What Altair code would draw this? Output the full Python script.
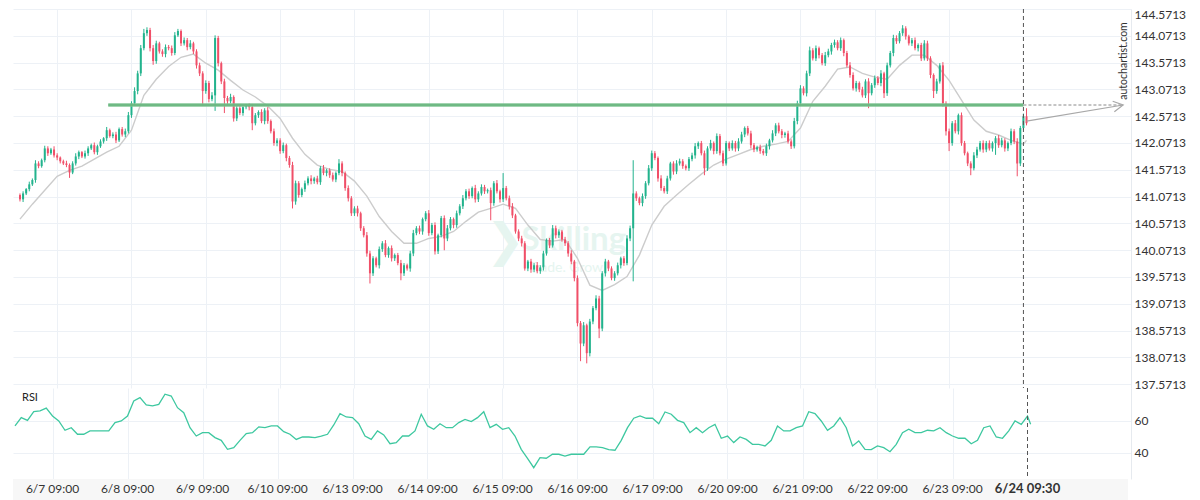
import altair as alt
import pandas as pd

# ---------------- data (hourly candles, index 0 = 6/6 21:00) ----------------
first_open = 141.10
close = [
    141.02, 141.13, 141.21, 141.30, 141.38, 141.69, 141.64, 141.75, 141.97, 141.88, 141.95, 141.84,
    141.80, 141.73, 141.69, 141.66, 141.52, 141.69, 141.82, 141.90, 141.82, 141.88, 141.97, 142.03,
    141.90, 142.01, 142.10, 142.16, 142.31, 142.20, 142.23, 142.12, 142.33, 142.23, 142.29, 142.59,
    142.81, 143.04, 143.37, 143.84, 144.12, 144.18, 143.84, 143.60, 143.93, 143.78, 143.73, 143.86,
    143.84, 143.75, 144.08, 144.16, 143.93, 143.99, 143.86, 143.93, 143.78, 143.52, 143.37, 143.04,
    143.19, 142.89, 142.96, 144.03, 143.56, 143.22, 142.91, 142.85, 142.93, 142.53, 142.72, 142.63,
    142.74, 142.76, 142.74, 142.44, 142.59, 142.65, 142.48, 142.68, 142.48, 142.29, 142.07, 142.12,
    141.92, 142.03, 141.79, 141.66, 140.98, 141.32, 141.10, 141.21, 141.32, 141.41, 141.36, 141.41,
    141.34, 141.60, 141.51, 141.56, 141.47, 141.39, 141.51, 141.69, 141.51, 141.23, 141.04, 140.76,
    140.85, 140.76, 140.48, 140.35, 140.01, 139.64, 139.92, 139.79, 140.09, 140.20, 139.98, 140.11,
    139.92, 139.98, 139.83, 139.64, 139.79, 139.73, 140.01, 140.39, 140.48, 140.42, 140.65, 140.76,
    140.39, 140.54, 140.05, 140.35, 140.67, 140.29, 140.48, 140.65, 140.54, 140.76, 140.89, 141.04,
    141.17, 141.08, 141.23, 141.02, 141.13, 141.25, 141.17, 141.19, 140.95, 141.32, 141.17, 141.02,
    141.23, 141.04, 140.89, 140.72, 140.42, 140.29, 140.20, 139.73, 139.86, 139.71, 139.79, 139.68,
    139.75, 140.01, 140.26, 140.16, 140.48, 140.35, 140.42, 140.27, 140.20, 140.01, 139.86, 139.55,
    138.71, 138.33, 138.67, 138.15, 138.74, 138.99, 139.17, 138.61, 139.64, 139.86, 139.73, 139.55,
    139.64, 139.79, 139.92, 139.83, 140.29, 140.48, 141.13, 141.04, 140.95, 141.08, 141.32, 141.60,
    141.88, 141.79, 141.41, 141.23, 141.17, 141.41, 141.69, 141.54, 141.69, 141.73, 141.64, 141.60,
    141.77, 141.84, 142.01, 142.07, 141.88, 141.60, 141.97, 142.07, 141.92, 142.20, 141.88, 141.69,
    142.07, 141.97, 142.07, 141.97, 142.10, 142.23, 142.35, 142.25, 142.03, 141.95, 141.99, 141.92,
    141.88, 142.01, 142.12, 142.25, 142.40, 142.29, 142.22, 142.25, 142.10, 142.01, 142.48, 142.81,
    143.09, 143.00, 143.37, 143.80, 143.65, 143.84, 143.71, 143.56, 143.71, 143.78, 143.90, 143.95,
    143.84, 143.99, 143.75, 143.52, 143.34, 143.09, 143.19, 143.07, 142.96, 143.22, 143.00, 143.15,
    143.28, 143.19, 143.37, 143.00, 143.52, 143.75, 144.03, 143.97, 144.12, 144.21, 144.06, 143.93,
    143.99, 143.84, 143.90, 143.65, 143.93, 143.65, 143.34, 143.04, 143.22, 143.52, 142.81, 142.29,
    142.07, 142.44, 142.29, 142.59, 142.07, 141.88, 141.69, 141.60, 141.84, 141.95, 142.07, 141.95,
    142.07, 141.97, 142.07, 142.16, 142.03, 142.12, 141.97, 142.07, 142.29, 142.10, 141.69, 142.35,
    142.57, 142.44,
]
# wick extensions beyond the body, in hundredths of a yen
wick_up = [
    3, 4, 2, 5, 3, 6, 4, 3, 5, 4, 3, 6,
    4, 2, 3, 5, 3, 4, 6, 3, 2, 5, 4, 3,
    5, 3, 4, 2, 6, 3, 4, 5, 3, 4, 5, 6,
    4, 7, 5, 6, 8, 5, 4, 6, 5, 3, 4, 5,
    4, 5, 6, 4, 3, 5, 4, 6, 3, 4, 5, 4,
    5, 4, 6, 5, 4, 3, 5, 4, 6, 3, 4, 5,
    3, 4, 5, 6, 4, 3, 5, 4, 6, 3, 5, 4,
    4, 5, 3, 4, 6, 5, 4, 3, 5, 4, 6, 3,
    5, 4, 6, 3, 4, 5, 3, 8, 4, 3, 5, 4,
    4, 5, 3, 4, 6, 5, 4, 3, 5, 4, 6, 3,
    5, 3, 4, 6, 4, 3, 5, 6, 4, 5, 3, 4,
    6, 4, 5, 3, 4, 5, 6, 4, 3, 5, 4, 6,
    4, 5, 3, 6, 4, 5, 4, 3, 5, 4, 6, 3,
    28, 4, 5, 6, 3, 4, 5, 4, 3, 5, 4, 6,
    4, 5, 3, 4, 6, 5, 4, 3, 5, 4, 6, 3,
    5, 4, 6, 3, 5, 4, 6, 5, 4, 5, 3, 4,
    4, 5, 3, 4, 6, 5, 62, 4, 3, 5, 4, 6,
    5, 4, 3, 6, 4, 5, 3, 4, 6, 5, 4, 3,
    4, 5, 6, 3, 4, 5, 4, 6, 3, 5, 4, 5,
    4, 3, 5, 4, 6, 5, 3, 4, 5, 4, 3, 5,
    4, 5, 3, 6, 4, 5, 4, 3, 5, 4, 6, 5,
    6, 4, 5, 7, 4, 5, 3, 4, 6, 5, 4, 5,
    4, 5, 3, 4, 6, 5, 4, 3, 5, 4, 6, 4,
    5, 4, 6, 3, 5, 4, 6, 5, 4, 6, 4, 3,
    4, 5, 3, 4, 6, 5, 4, 3, 5, 4, 6, 4,
    5, 4, 6, 3, 5, 4, 3, 4, 6, 5, 4, 5,
    4, 5, 3, 4, 6, 5, 4, 3, 5, 4, 6, 4,
    5, 15,
]
wick_dn = [
    4, 5, 3, 4, 3, 5, 4, 3, 4, 5, 3, 4,
    5, 4, 3, 4, 10, 3, 4, 5, 3, 4, 5, 3,
    4, 5, 3, 4, 5, 3, 4, 5, 3, 4, 5, 4,
    5, 4, 6, 5, 4, 5, 6, 7, 5, 4, 5, 6,
    4, 5, 4, 3, 5, 4, 6, 4, 5, 6, 5, 28,
    5, 6, 4, 29, 6, 5, 28, 5, 4, 6, 5, 4,
    5, 4, 6, 13, 4, 5, 4, 6, 5, 4, 5, 6,
    5, 4, 6, 5, 13, 6, 5, 4, 5, 4, 6, 5,
    4, 5, 4, 6, 5, 4, 5, 4, 6, 5, 6, 5,
    5, 6, 5, 4, 6, 19, 5, 4, 6, 5, 4, 5,
    6, 5, 4, 13, 5, 4, 6, 5, 4, 5, 6, 4,
    5, 4, 6, 5, 4, 22, 5, 4, 6, 5, 4, 5,
    4, 5, 4, 6, 5, 4, 5, 4, 32, 5, 4, 6,
    5, 4, 6, 5, 4, 5, 6, 4, 5, 6, 5, 4,
    5, 6, 4, 5, 4, 6, 5, 4, 5, 6, 5, 6,
    6, 33, 5, 19, 6, 5, 4, 18, 5, 6, 5, 4,
    5, 4, 6, 5, 4, 5, 99, 5, 4, 6, 5, 4,
    5, 4, 6, 5, 4, 5, 4, 6, 5, 4, 5, 4,
    5, 4, 6, 5, 4, 13, 5, 4, 6, 5, 4, 5,
    4, 5, 4, 6, 5, 4, 5, 4, 6, 5, 4, 5,
    4, 5, 6, 4, 5, 4, 6, 5, 4, 5, 4, 6,
    5, 4, 6, 5, 4, 5, 6, 4, 5, 4, 6, 5,
    4, 5, 6, 4, 5, 4, 6, 5, 4, 5, 28, 4,
    5, 4, 6, 9, 5, 4, 6, 5, 4, 5, 6, 4,
    5, 4, 6, 5, 4, 5, 6, 13, 5, 4, 6, 8,
    15, 5, 4, 6, 5, 4, 5, 13, 4, 5, 4, 6,
    5, 4, 6, 22, 5, 4, 6, 5, 4, 5, 24, 5,
    4, 4,
]
# moving average, read every 4th candle, plus the last candle
ma_step = 4
ma = [
    140.65, 140.93, 141.19, 141.45, 141.56, 141.64, 141.77, 141.90, 142.01, 142.31,
    142.96, 143.26, 143.50, 143.67, 143.73, 143.56, 143.43, 143.24, 143.06, 142.93,
    142.76, 142.53, 142.16, 141.86, 141.66, 141.58, 141.54, 141.36, 141.08, 140.70,
    140.42, 140.20, 140.20, 140.29, 140.33, 140.42, 140.61, 140.78, 140.85, 140.93,
    140.85, 140.54, 140.27, 140.24, 140.27, 139.92, 139.42, 139.32, 139.43, 139.58,
    139.98, 140.54, 140.89, 141.10, 141.30, 141.49, 141.66, 141.77, 141.86, 141.95,
    142.01, 142.05, 142.10, 142.35, 142.85, 143.13, 143.45, 143.49, 143.37, 143.30,
    143.26, 143.52, 143.71, 143.71, 143.52, 143.24, 142.87, 142.50, 142.29, 142.22,
    142.12, 142.05,
]
ma_last = 142.12
# RSI, read every 2nd candle, plus the last candle
rsi_step = 2
rsi = [
    56.9, 62.1, 60.4, 65.8, 66.3, 68.0, 63.1, 60.0, 54.2, 55.8,
    51.7, 51.7, 53.8, 53.8, 53.8, 53.8, 59.0, 60.0, 63.1, 72.5,
    74.6, 70.0, 69.4, 70.4, 76.7, 75.6, 68.3, 65.2, 55.8, 50.6,
    52.7, 52.7, 49.6, 47.9, 42.3, 43.3, 47.9, 52.1, 52.7, 56.3,
    55.8, 56.9, 56.9, 53.3, 51.7, 48.5, 50.0, 50.0, 49.6, 50.6,
    51.7, 57.5, 64.6, 62.5, 62.1, 58.3, 50.6, 48.5, 53.8, 51.3,
    45.8, 46.5, 50.6, 50.6, 53.8, 64.2, 56.9, 54.8, 58.3, 55.8,
    55.8, 59.0, 61.0, 59.6, 62.1, 65.8, 55.8, 57.9, 54.8, 55.8,
    50.6, 42.3, 36.7, 30.8, 37.1, 36.7, 39.2, 39.2, 38.1, 39.2,
    39.2, 39.2, 43.8, 43.8, 43.3, 42.1, 41.7, 47.9, 55.8, 61.7,
    63.1, 61.7, 61.7, 58.3, 65.6, 64.2, 60.4, 59.0, 52.7, 55.8,
    52.7, 55.8, 57.9, 49.2, 50.6, 46.5, 50.0, 48.5, 45.4, 45.4,
    44.4, 47.9, 56.9, 53.8, 53.8, 55.8, 56.9, 65.8, 64.6, 60.0,
    54.2, 56.9, 62.1, 55.8, 44.4, 47.5, 42.3, 42.1, 44.4, 43.3,
    40.8, 45.4, 52.7, 54.8, 52.7, 52.7, 54.2, 53.8, 55.8, 52.7,
    50.6, 49.2, 49.2, 45.8, 47.9, 55.8, 56.9, 50.0, 49.2, 53.8,
    60.0, 57.9, 63.1,
]
rsi_last = 57.9

price_ticks = [137.5713, 138.0713, 138.5713, 139.0713, 139.5713, 140.0713, 140.5713,
               141.0713, 141.5713, 142.0713, 142.5713, 143.0713, 143.5713, 144.0713, 144.5713]
rsi_ticks = [40, 60]
grid_idx = [12, 36, 60, 84, 108, 132, 156, 180, 204, 228, 252, 276, 300]
tick_labels = ["6/7 09:00", "6/8 09:00", "6/9 09:00", "6/10 09:00", "6/13 09:00",
               "6/14 09:00", "6/15 09:00", "6/16 09:00", "6/17 09:00", "6/20 09:00",
               "6/21 09:00", "6/22 09:00", "6/23 09:00"]
now_idx = 324
now_label = "6/24 09:30"

level = 142.78          # horizontal resistance level
level_start = 28.5      # candle index where the level is drawn from
proj_end = 356.2        # projection end (candle index)
arrow_start = (325, 142.48)

# ---------------- build tables ----------------
n = len(close)
assert len(wick_up) == n and len(wick_dn) == n, (n, len(wick_up), len(wick_dn))
opens = [first_open] + close[:-1]
rows = []
for i in range(n):
    o, c = opens[i], close[i]
    rows.append({
        "i": i, "o": o, "c": c,
        "hi": max(o, c) + wick_up[i] / 100.0,
        "lo": min(o, c) - wick_dn[i] / 100.0,
        "d": "up" if c >= o else "dn",
    })
cdf = pd.DataFrame(rows)
ma_df = pd.DataFrame({"i": [k * ma_step for k in range(len(ma))] + [n - 1],
                      "v": ma + [ma_last]})
rsi_df = pd.DataFrame({"i": [k * rsi_step for k in range(len(rsi))] + [n - 1],
                       "v": rsi + [rsi_last]})

# ---------------- styling ----------------
GREEN = "#22b38d"
RED = "#f04f68"
GRID = "#edf1f6"
FONT = "Lato"
WM = "#e6f5f0"
W, H_MAIN, H_RSI, H_AX = 1118, 379, 91, 22
X0, X1 = -0.64, 357.12

xsc = alt.Scale(domain=[X0, X1], nice=False, zero=False)
ysc = alt.Scale(domain=[137.50, 144.5713], nice=False, zero=False)
rsc = alt.Scale(domain=[23.75, 80.6], nice=False, zero=False)

ax_x = alt.Axis(values=grid_idx, labels=False, ticks=False, domain=False, grid=True,
                gridColor=GRID, title=None)
ax_y = alt.Axis(orient="right", values=price_ticks, format=".4f", grid=True, gridColor=GRID,
                domain=True, domainColor="#e6eaef", ticks=False, labelPadding=3,
                labelFont=FONT, labelFontSize=12, labelColor="#333333", labelFlush=2,
                title=None)
ax_r = alt.Axis(orient="right", values=rsi_ticks, grid=True, gridColor=GRID,
                domain=True, domainColor="#e6eaef", ticks=False, labelPadding=3,
                labelFont=FONT, labelFontSize=12, labelColor="#333333", title=None)

X = alt.X("i:Q", scale=xsc, axis=ax_x)
Yp = alt.Y("p:Q", scale=ysc, axis=ax_y)
color = alt.Color("d:N", scale=alt.Scale(domain=["up", "dn"], range=[GREEN, RED]), legend=None)

# watermark (logo chevron, name, slogan)
wm = pd.DataFrame({"i": [161.9], "p": [140.07], "t": ["Skilling"]})
wm2 = pd.DataFrame({"i": [164.2], "p": [139.66], "t": ["Trade. Grow."]})
wm3 = pd.DataFrame({"i": [150.5], "p": [140.22], "t": ["❯"]})
water = (
    alt.Chart(wm).mark_text(font=FONT, fontSize=33, fontWeight="bold", color=WM,
                            baseline="alphabetic", align="left")
    .encode(x=X, y=Yp, text="t:N")
    + alt.Chart(wm2).mark_text(font=FONT, fontSize=14, color=WM, baseline="alphabetic",
                               align="left")
    .encode(x=X, y=Yp, text="t:N")
    + alt.Chart(wm3).mark_text(font="DejaVu Sans", fontSize=46, fontWeight="bold",
                               color=WM, baseline="middle", align="left")
    .encode(x=X, y=Yp, text="t:N")
)

ma_line = alt.Chart(ma_df).mark_line(color="#cccccc", strokeWidth=1.4).encode(
    x=X, y=alt.Y("v:Q", scale=ysc, axis=ax_y))
wicks = alt.Chart(cdf).mark_rule(strokeWidth=1).encode(
    x=X, y=alt.Y("lo:Q", scale=ysc, axis=ax_y), y2="hi:Q", color=color)
bodies = alt.Chart(cdf).mark_bar(size=2).encode(
    x=X, y=alt.Y("o:Q", scale=ysc, axis=ax_y), y2="c:Q", color=color)

lvl_df = pd.DataFrame({"a": [level_start], "b": [now_idx], "p": [level]})
lvl = alt.Chart(lvl_df).mark_rule(color="#7cc28f", strokeWidth=3.5, opacity=0.95).encode(
    x=alt.X("a:Q", scale=xsc, axis=ax_x), x2="b:Q", y=Yp)
lvl_in = alt.Chart(lvl_df).mark_rule(color="#5aad72", strokeWidth=1).encode(
    x=alt.X("a:Q", scale=xsc, axis=ax_x), x2="b:Q", y=Yp)

proj_df = pd.DataFrame({"a": [now_idx], "b": [proj_end], "p": [level]})
proj = alt.Chart(proj_df).mark_rule(color="#8a8a8a", strokeWidth=1, strokeDash=[3, 2]).encode(
    x=alt.X("a:Q", scale=xsc, axis=ax_x), x2="b:Q", y=Yp)

arr_df = pd.DataFrame({"i": [arrow_start[0], proj_end], "p": [arrow_start[1], level]})
arrow = alt.Chart(arr_df).mark_line(color="#a8a8a8", strokeWidth=1.2).encode(x=X, y=Yp)
head = alt.Chart(arr_df.tail(1)).mark_point(
    shape="M-1,-0.55L0,0L-1,0.55", size=380, filled=False, color="#a8a8a8",
    strokeWidth=1.2, angle=351, opacity=1).encode(x=X, y=Yp)

now_df = pd.DataFrame({"i": [now_idx]})
now_main = alt.Chart(now_df).mark_rule(color="#555555", strokeWidth=1, strokeDash=[4, 3]).encode(
    x=X, y=alt.value(0), y2=alt.value(H_MAIN))

brand = alt.Chart(pd.DataFrame({"t": ["autochartist.com"]})).mark_text(
    font=FONT, fontSize=10.5, color="#333333", angle=270, baseline="middle", align="center"
).encode(x=alt.value(1111), y=alt.value(52), text="t:N")

main = alt.layer(water, ma_line, wicks, bodies, lvl, lvl_in, proj, arrow, head, now_main,
                 brand).properties(width=W, height=H_MAIN)

# RSI panel
rsi_line = alt.Chart(rsi_df).mark_line(color="#3ec8a0", strokeWidth=1.3).encode(
    x=X, y=alt.Y("v:Q", scale=rsc, axis=ax_r))
rsi_lbl = alt.Chart(pd.DataFrame({"t": ["RSI"]})).mark_text(
    font=FONT, fontSize=11, color="#222222", align="left", baseline="middle"
).encode(x=alt.value(9), y=alt.value(10), text="t:N")
now_rsi = alt.Chart(now_df).mark_rule(color="#555555", strokeWidth=1, strokeDash=[4, 3]).encode(
    x=X, y=alt.value(0), y2=alt.value(H_RSI))
rsi_panel = alt.layer(rsi_line, rsi_lbl, now_rsi).properties(width=W, height=H_RSI)

# date strip
tick_df = pd.DataFrame({"i": grid_idx, "t": tick_labels})
now_lab = pd.DataFrame({"i": [now_idx], "t": [now_label]})
strip_bg = alt.Chart(pd.DataFrame({"a": [0]})).mark_rect(color="#f7f7f7").encode(
    x=alt.value(0), x2=alt.value(W - 3), y=alt.value(0), y2=alt.value(H_AX))
strip_txt = alt.Chart(tick_df).mark_text(font=FONT, fontSize=12, color="#333333",
                                         baseline="middle").encode(
    x=alt.X("i:Q", scale=xsc, axis=None), y=alt.value(10), text="t:N")
strip_now = alt.Chart(now_lab).mark_text(font=FONT, fontSize=13, fontWeight="bold",
                                         color="#333333", baseline="middle").encode(
    x=alt.X("i:Q", scale=xsc, axis=None), y=alt.value(10), text="t:N")
strip = alt.layer(strip_bg, strip_txt, strip_now).properties(width=W, height=H_AX)

chart = (
    alt.vconcat(main, rsi_panel, strip, spacing=0, bounds="flush")
    .properties(padding={"left": 4, "top": 0, "right": 0, "bottom": 0})
    .configure_view(strokeWidth=0)
)
chart.save("out.html", embed_options={"renderer": "svg", "actions": False})
